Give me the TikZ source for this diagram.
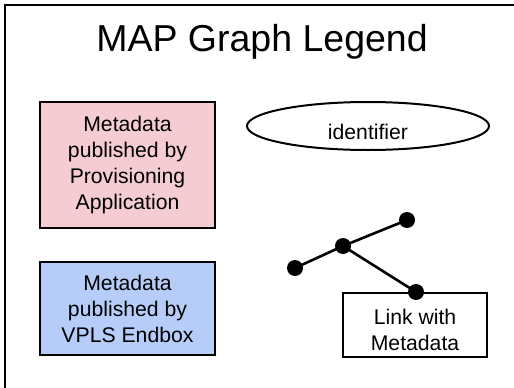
\documentclass[tikz,border=0pt]{standalone}
\usepackage{fontspec}
\setmainfont{Liberation Sans}
\usetikzlibrary{shapes.geometric}
\definecolor{provpink}{RGB}{244,204,210}
\definecolor{vplsblue}{RGB}{182,205,250}
\begin{document}
\begin{tikzpicture}[x=1pt,y=-1pt,
  labelfont/.style={font=\fontsize{21.2}{26}\selectfont},
  legendbox/.style={draw=black,line width=2pt,minimum width=175pt,align=center,
    labelfont,inner sep=0pt},
  plaintext/.style={labelfont,align=center,inner sep=0pt},
  dot/.style={circle,fill=black,inner sep=0pt,minimum size=16pt},
  linkline/.style={line width=2.6pt}]
  \useasboundingbox (0,0) rectangle (514,388);
  % outer frame (runs off the right and bottom edges)
  \draw[line width=2pt] (5,388) -- (5,5) -- (514,5);
  % title
  \node[font=\fontsize{37.5}{42}\selectfont] (title) at (262,42) {MAP Graph Legend};
  % publisher boxes
  \node[legendbox,fill=provpink,minimum height=126pt] (prov) at (127.5,165)
    {Metadata\\published by\\Provisioning\\Application};
  \node[legendbox,fill=vplsblue,minimum height=93pt] (vpls) at (127.5,308.5)
    {Metadata\\published by\\VPLS Endbox};
  % identifier
  \node[draw,ellipse,line width=2pt,minimum width=242pt,minimum height=48pt,
    inner sep=0pt] (ident) at (368,126) {};
  \node[plaintext] (identtext) at (368,132.3) {identifier};
  % link with metadata
  \node[draw,line width=2pt,minimum width=144pt,minimum height=64pt,
    inner sep=0pt] (linkbox) at (415,325) {};
  \node[plaintext] (linktext) at (415,329.7) {Link with\\Metadata};
  \node[dot] (d1) at (295,268) {};
  \node[dot] (d2) at (343,246) {};
  \node[dot] (d3) at (407,220) {};
  \node[dot] (d4) at (416,292) {};
  \draw[linkline] (d1.center) -- (d2.center) -- (d3.center);
  \draw[linkline] (d2.center) -- (d4.center);
\end{tikzpicture}
\end{document}
